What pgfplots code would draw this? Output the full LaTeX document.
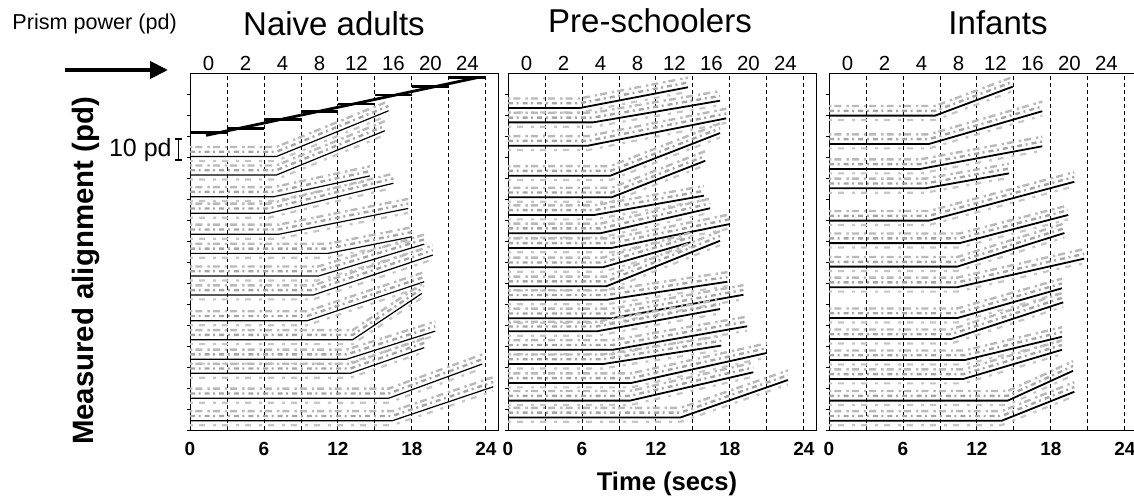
\documentclass[border=0pt]{standalone}
\usepackage{pgfplots}
\pgfplotsset{compat=1.18}
\usepackage{fontspec}
\setmainfont{Liberation Sans}
\usetikzlibrary{arrows.meta}

\pgfplotsset{panel/.style={
  scale only axis, width=154.1pt, height=178.5pt,
  xmin=0, xmax=25, ymin=0, ymax=170,
  xtick={0,3,...,24}, xticklabels={0,,6,,12,,18,,24},
  xmajorgrids, grid style={black, dash pattern=on 2pt off 1.5pt, line width=0.45pt},
  major x tick style={draw=none},
  ytick={0,10,...,160}, yticklabels={}, ytick pos=left,
  tick align=outside, major tick length=1.6pt,
  y tick style={black, line width=0.4pt},
  xticklabel style={font=\bfseries\fontsize{9.5}{10}\selectfont, yshift=-1pt},
  axis line style={black, line width=0.5pt},
  /pgf/number format/assume math mode=true,
  clip=false,
  anchor=south west,
}}

% #1 fit line width, #2 flat level, #3 knee time, #4 end time, #5 end level
\newcommand{\row}[5][0.6pt]{%
  \addplot[gray!45, line width=1.1pt, dash pattern=on 1.5pt off 3pt on 3pt off 4pt, yshift=-2.2pt] coordinates {(0,#2) (#3,#2) (#4,#5)};
  \addplot[gray!70, line width=1.2pt, dash pattern=on 2.5pt off 1.8pt on 1pt off 2pt, yshift=2.4pt] coordinates {(0,#2) (#3,#2) (#4,#5)};
  \addplot[gray!55, line width=1.2pt, dash pattern=on 1.2pt off 1.5pt on 3.5pt off 2.5pt, yshift=4.8pt] coordinates {(0,#2) (#3,#2) (#4,#5)};
  \addplot[black, line width=#1] coordinates {(0,#2) (#3,#2) (#4,#5)};
}

\newcommand{\pl}[2]{\node[anchor=base, font=\fontsize{10.2}{11}\selectfont] at (axis cs:#1,171.2) {#2};}
\newcommand{\prism}{%
  \pl{1.5}{0}\pl{4.5}{2}\pl{7.5}{4}\pl{10.5}{8}\pl{13.5}{12}\pl{16.5}{16}\pl{19.5}{20}\pl{22.5}{24}%
}

\begin{document}
\begin{tikzpicture}
\useasboundingbox (0,0) rectangle (567pt,-248.5pt);

% ---------- Naive adults ----------
\begin{axis}[panel, at={(95pt,-215pt)}]
\row{130.2}{7.0}{16.1}{152}
\row{121.4}{7.0}{15.8}{142.5}
\row{111.1}{6.8}{14.6}{121}
\row{103.2}{6.4}{16.5}{117.5}
\row{93.2}{7.2}{17.7}{105.5}
\row{84.1}{11.2}{18.0}{92}
\row{73.3}{10.4}{19.0}{88.5}
\row{64.3}{10.0}{19.7}{83.3}
\row{52.0}{9.5}{19.0}{70.6}
\row{43.0}{13.2}{18.8}{65}
\row{33.7}{12.7}{19.9}{47.1}
\row{27.0}{13.0}{19.0}{39.2}
\row{15.1}{16.1}{23.7}{31.4}
\row{4.4}{16.4}{24.6}{20.6}
% staircase of prism power
\addplot[black, line width=1.4pt] coordinates {(0,141.8) (3,141.8)};
\addplot[black, line width=1.4pt] coordinates {(3,143.7) (6,143.7)};
\addplot[black, line width=1.4pt] coordinates {(6,148.0) (9,148.0)};
\addplot[black, line width=1.4pt] coordinates {(9,151.6) (12,151.6)};
\addplot[black, line width=1.4pt] coordinates {(12,155.2) (15,155.2)};
\addplot[black, line width=1.4pt] coordinates {(15,159.5) (18,159.5)};
\addplot[black, line width=1.4pt] coordinates {(18,163.5) (21,163.5)};
\addplot[black, line width=1.4pt] coordinates {(21,167.8) (24,167.8)};
\addplot[black, line width=1.4pt] coordinates {(1.3,140.3) (23.3,167.8)};
\prism
\end{axis}

% ---------- Pre-schoolers ----------
\begin{axis}[panel, at={(254pt,-215pt)}]
\row[0.9pt]{153.3}{5.8}{14.6}{163.2}
\row[0.9pt]{146.5}{6.9}{17.2}{156.8}
\row[0.9pt]{135.4}{6.5}{17.7}{148.4}
\row[0.9pt]{121.1}{8.3}{17.2}{141.4}
\row[0.9pt]{110.8}{8.4}{16.0}{128.2}
\row[0.9pt]{102.4}{7.0}{15.9}{111.6}
\row[0.9pt]{93.7}{7.5}{16.4}{105.6}
\row[0.9pt]{86.7}{8.4}{18.0}{98.1}
\row[0.9pt]{77.5}{7.7}{14.8}{89.4}
\row[0.9pt]{68.5}{8.0}{17.2}{90.1}
\row[0.9pt]{62.0}{8.0}{17.8}{70.6}
\row[0.9pt]{53.2}{8.4}{19.1}{64.4}
\row[0.9pt]{47.0}{7.2}{17.2}{57.6}
\row[0.9pt]{38.2}{8.5}{19.4}{49.4}
\row[0.9pt]{31.4}{7.7}{17.3}{40.2}
\row[0.9pt]{22.4}{10.0}{21.0}{36.7}
\row[0.9pt]{14.0}{9.9}{19.9}{27.5}
\row[0.9pt]{6.0}{14.0}{22.7}{23.8}
\prism
\end{axis}

% ---------- Infants ----------
\begin{axis}[panel, at={(414.5pt,-215pt)}]
\row[0.9pt]{149.7}{8.6}{14.9}{163.5}
\row[0.9pt]{136.2}{8.1}{17.3}{151.8}
\row[0.9pt]{124.3}{7.4}{17.3}{135.1}
\row[0.9pt]{115.1}{7.8}{14.6}{122.2}
\row[0.9pt]{99.7}{8.1}{19.9}{118.2}
\row[0.9pt]{89.0}{10.6}{19.4}{102.4}
\row[0.9pt]{77.8}{10.4}{19.1}{93.8}
\row[0.9pt]{68.0}{10.4}{20.7}{81.6}
\row[0.9pt]{53.3}{10.4}{18.9}{67.5}
\row[0.9pt]{43.3}{9.9}{19.0}{60.8}
\row[0.9pt]{33.3}{11.0}{18.9}{44.4}
\row[0.9pt]{24.3}{10.9}{18.9}{38.2}
\row[0.9pt]{14.0}{14.5}{19.8}{28.2}
\row[0.9pt]{4.4}{14.0}{19.9}{18.2}
\prism
\end{axis}

% ---------- texts ----------
\node[anchor=base, font=\fontsize{16.5}{18}\selectfont] at (167pt,-18pt) {Naive adults};
\node[anchor=base, font=\fontsize{16.5}{18}\selectfont] at (325pt,-16.5pt) {Pre-schoolers};
\node[anchor=base, font=\fontsize{16.5}{18}\selectfont] at (499pt,-17.5pt) {Infants};
\node[anchor=base west, inner sep=0pt, font=\fontsize{10.8}{12}\selectfont] at (6pt,-15pt) {Prism power (pd)};
\draw[line width=2pt, -{Triangle[length=9pt,width=8.5pt]}] (32.5pt,-35pt) -- (84pt,-35pt);
\node[anchor=base east, inner sep=0pt, font=\fontsize{12.5}{14}\selectfont] at (86pt,-78.5pt) {10 pd};
\draw[line width=0.6pt] (89.25pt,-69.5pt) -- (89.25pt,-80pt);
\draw[line width=0.6pt] (87.6pt,-69.5pt) -- (90.9pt,-69.5pt);
\draw[line width=0.6pt] (87.6pt,-80pt) -- (90.9pt,-80pt);
\node[anchor=base, rotate=90, inner sep=0pt, font=\bfseries\fontsize{14.7}{16}\selectfont] at (46.5pt,-135.5pt) {Measured alignment (pd)};
\node[anchor=base, inner sep=0pt, font=\bfseries\fontsize{12.8}{14}\selectfont] at (333.5pt,-245pt) {Time (secs)};
\end{tikzpicture}
\end{document}
